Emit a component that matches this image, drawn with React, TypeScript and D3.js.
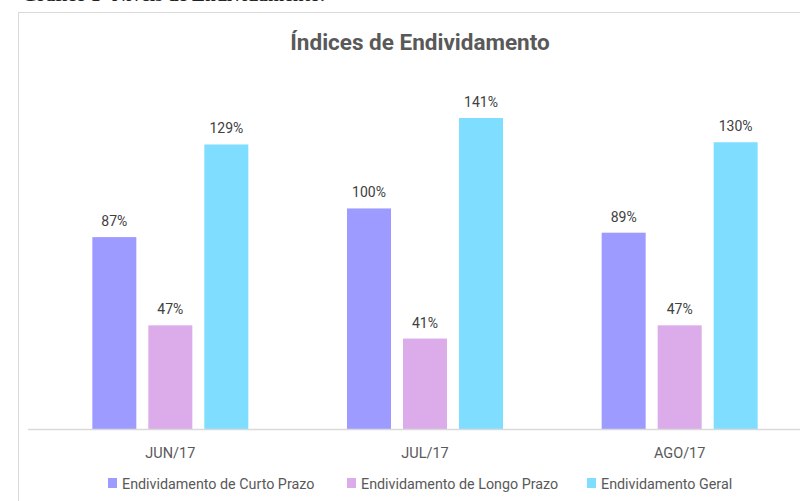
import React from 'react';
import * as d3 from 'd3';

const categories = ['JUN/17', 'JUL/17', 'AGO/17'];
const seriesNames = ['Endividamento de Curto Prazo', 'Endividamento de Longo Prazo', 'Endividamento Geral'];
const curtoPrazo = [87, 100, 89];
const longoPrazo = [47, 41, 47];
const geral = [129, 141, 130];
const colors = ['#9d9bff', '#dbabea', '#7fdeff'];

const width = 800;
const height = 501;
const baseline = 429;

export default function App() {
  const seriesValues = [curtoPrazo, longoPrazo, geral];

  // category bands, groups centred at ~170 / 425 / 680
  const x0 = d3.scaleBand().domain(categories).range([43, 807]).padding(0);
  // bars inside a group
  const x1 = d3.scaleBand().domain(seriesNames).range([-78, 78]).paddingInner(12 / 56).paddingOuter(0);
  const y = d3.scaleLinear().domain([0, 141]).range([baseline, 118]);

  const font = 'Roboto, "Open Sans", sans-serif';
  const legendX = [108, 347, 587];

  return (
    <svg width={width} height={height} style={{ position: 'absolute', left: 0, top: 0, background: '#fff' }}>
      {/* caption from the page above, mostly cut off */}
      <text x={22} y={1} fontFamily='"Liberation Serif", serif' fontWeight="bold" fontSize={19.5} fill="#222">
        Gráfico 1- Níveis de Endividamento.
      </text>
      <rect x={18.5} y={12.5} width={800} height={520} fill="#fff" stroke="#d9d9d9" />
      <text x={420} y={50} textAnchor="middle" fontFamily={font} fontWeight="bold" fontSize={22.5} fill="#595959">
        Índices de Endividamento
      </text>

      {categories.map((c, ci) => {
        const cx = (x0(c) as number) + x0.bandwidth() / 2;
        return (
          <g key={c}>
            {seriesNames.map((s, si) => {
              const v = seriesValues[si][ci];
              const bx = cx + (x1(s) as number);
              return (
                <g key={s}>
                  <rect x={bx} y={y(v)} width={x1.bandwidth()} height={baseline - y(v)} fill={colors[si]} />
                  <text x={bx + x1.bandwidth() / 2} y={y(v) - 11} textAnchor="middle" fontFamily={font} fontSize={14} fill="#404040">
                    {v}%
                  </text>
                </g>
              );
            })}
            <text x={cx} y={458} textAnchor="middle" fontFamily={font} fontSize={14.5} fill="#595959">
              {c}
            </text>
          </g>
        );
      })}

      <line x1={28} x2={800} y1={429.5} y2={429.5} stroke="#d9d9d9" strokeWidth={1.5} />

      {seriesNames.map((s, i) => (
        <g key={s}>
          <rect x={legendX[i]} y={478} width={9} height={10} fill={colors[i]} />
          <text x={legendX[i] + 14} y={488.5} fontFamily={font} fontSize={14.3} fill="#595959">
            {s}
          </text>
        </g>
      ))}
    </svg>
  );
}
